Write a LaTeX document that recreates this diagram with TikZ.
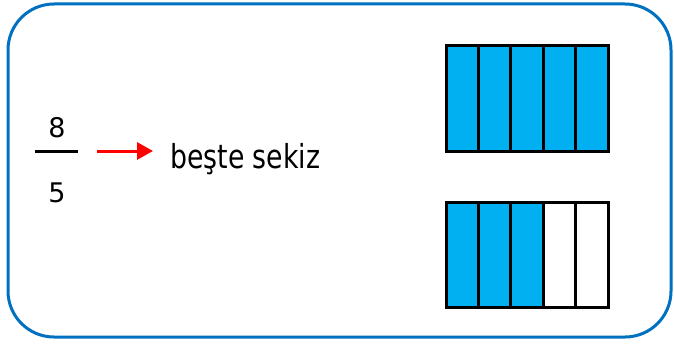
\documentclass[tikz,border=0pt]{standalone}
\usepackage{fontspec}
\setmainfont{DejaVu Sans}
\newfontfamily\narrowfont[FakeStretch=0.81]{DejaVu Sans}
\usepackage{tikz}
\usetikzlibrary{arrows.meta,positioning}
\definecolor{FrameBlue}{RGB}{0,112,192}
\definecolor{CellBlue}{RGB}{0,176,240}
\begin{document}
\begin{tikzpicture}[x=1pt,y=-1pt,
  cell/.style={draw=black,line width=3pt,minimum width=32.4pt,minimum height=105pt,inner sep=0pt,outer sep=0pt},
  digit/.style={font=\fontsize{27}{30}\selectfont,inner sep=0pt,anchor=base}]
  \useasboundingbox (0,0) rectangle (674,345);
  \draw[FrameBlue,line width=3pt,rounded corners=46pt] (8,4) rectangle (671,337);
  % kesir
  \node[digit] (num) at (57,137) {8};
  \node[digit] (den) at (57,202) {5};
  \node[draw=none,fill=black,minimum width=43pt,minimum height=3pt,inner sep=0pt] (bar) at (56.5,151) {};
  \node[font=\narrowfont\fontsize{33}{36}\selectfont,inner sep=0pt,anchor=base west] (lbl) at (170,168) {beşte sekiz};
  \draw[red,line width=3pt,-{Triangle[length=16pt,width=17pt]}]
    ([xshift=19pt]bar.east) -- ([xshift=-17pt]lbl.west |- bar.east);
  % bütünler
  \foreach \i in {1,...,5}{
    \node[cell,fill=CellBlue] (t\i) at (446+\i*32.4-16.2,98.5) {};}
  \foreach \i/\col in {1/CellBlue,2/CellBlue,3/CellBlue,4/white,5/white}{
    \node[cell,fill=\col] (b\i) at (446+\i*32.4-16.2,255) {};}
\end{tikzpicture}
\end{document}
